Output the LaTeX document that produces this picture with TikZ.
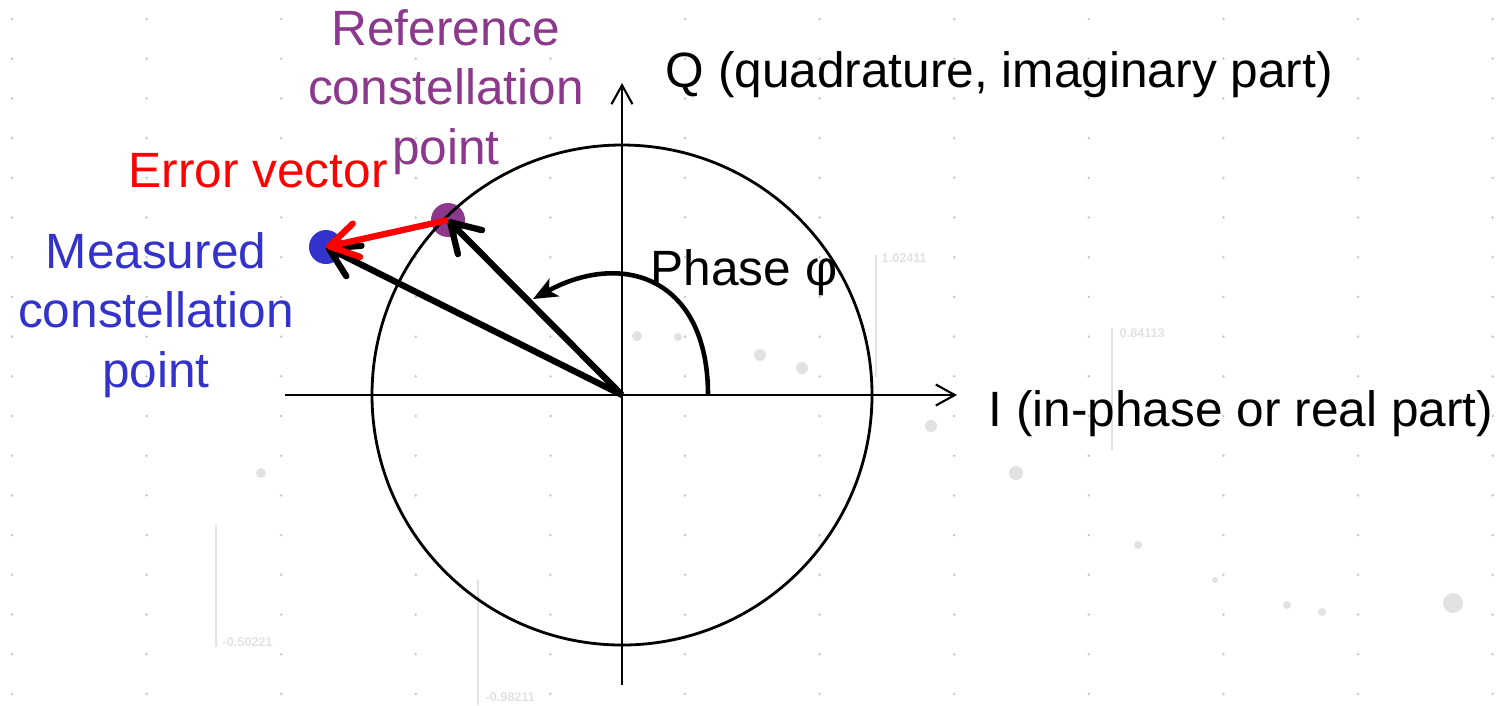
\documentclass[tikz,border=0pt]{standalone}
\usepackage{fontspec}
\setmainfont{Liberation Sans}
\definecolor{refpurple}{RGB}{140,56,140}
\definecolor{measblue}{RGB}{51,51,204}
\definecolor{errred}{RGB}{255,0,0}
\definecolor{griddot}{RGB}{200,200,200}
\definecolor{faintgray}{RGB}{226,226,226}
\usetikzlibrary{arrows.meta,positioning}

\begin{document}
\begin{tikzpicture}[x=0.01cm,y=-0.01cm,
  lbl/.style={font=\fontsize{14.1}{17}\selectfont, inner sep=0pt, align=center},
  vec/.style={line width=1.8pt, -{Straight Barb[length=2.8mm,width=3.4mm,round]}},
  axis/.style={line width=0.6pt, -{Straight Barb[length=1.9mm,width=2.1mm]}},
  cpoint/.style={circle, minimum size=0.34cm, inner sep=0pt},
  faintnum/.style={font=\fontsize{3.6}{4}\selectfont\bfseries, text=faintgray, inner sep=0pt, anchor=base west}]

  \useasboundingbox (0,0) rectangle (1504,705);
  \fill[white] (0,0) rectangle (1504,705);

  % Background dots
  \foreach \i in {0,...,11}
    \foreach \j in {0,...,17}
      \fill[griddot] ({12+134.6*\i},{19+39.7*\j}) circle[radius=1.4];
  \foreach \x/\y/\r in {637/336/5, 678/337/4, 760/355/6, 802/368/6, 931/426/6, 1016/473/7,
                        1138/545/4, 261/473/5, 1287/605/4, 1322/612/4, 1453/603/10, 1215/580/3}
    \fill[faintgray] (\x,\y) circle[radius=\r];

  % Faint scale marks
  \draw[faintgray, line width=0.4pt] (876,255) -- (876,377);
  \node[faintnum] (m1) at (881,262) {1.02411};
  \draw[faintgray, line width=0.4pt] (1112,328) -- (1112,450);
  \node[faintnum] (m2) at (1119,337) {0.84113};
  \draw[faintgray, line width=0.4pt] (216,525) -- (216,647);
  \node[faintnum] (m3) at (222,646) {-0.50221};
  \draw[faintgray, line width=0.4pt] (478,580) -- (478,705);
  \node[faintnum] (m4) at (485,701) {-0.98211};

  % Constellation points
  \node[cpoint, fill=refpurple] (refpt) at (448,220) {};
  \node[cpoint, fill=measblue] (measpt) at (326,247) {};

  % Axes and unit circle
  \coordinate (O) at (622,395);
  \coordinate (iwest) at (285,395);
  \coordinate (ieast) at (957,395);
  \coordinate (qsouth) at (622,685);
  \coordinate (qnorth) at (622,83);
  \draw[line width=0.8pt] (O) circle[radius=250];
  \draw[axis] (iwest) -- (ieast);
  \draw[axis] (qsouth) -- (qnorth);
  \node[lbl, anchor=base west] (qlabel) at (665,87) {Q (quadrature, imaginary part)};
  \node[lbl, anchor=base west] (ilabel) at (988,426) {I (in-phase or real part)};

  % Phase arc
  \coordinate (phs) at (708,395);
  \coordinate (phe) at (533,299);
  \draw[line width=1.3pt, -{Stealth[length=2.4mm,width=2mm,inset=0.6mm]}]
    (phs) .. controls (708,278) and (623,250) .. (phe);
  \node[lbl, anchor=base west] (phase) at (650,285) {Phase φ};

  % Vectors
  \draw[vec] (O) -- (refpt.center);
  \draw[vec] (O) -- (measpt.center);
  \draw[vec, errred] (refpt.center) -- (measpt.center);

  % Labels
  \node[lbl, text=refpurple] (reflabel) at (446,92) {Reference\\constellation\\point};
  \node[lbl, text=measblue] (measlabel) at (156,315) {Measured\\constellation\\point};
  \node[lbl, text=errred, anchor=base west] (errlabel) at (128,187) {Error vector};
\end{tikzpicture}
\end{document}
